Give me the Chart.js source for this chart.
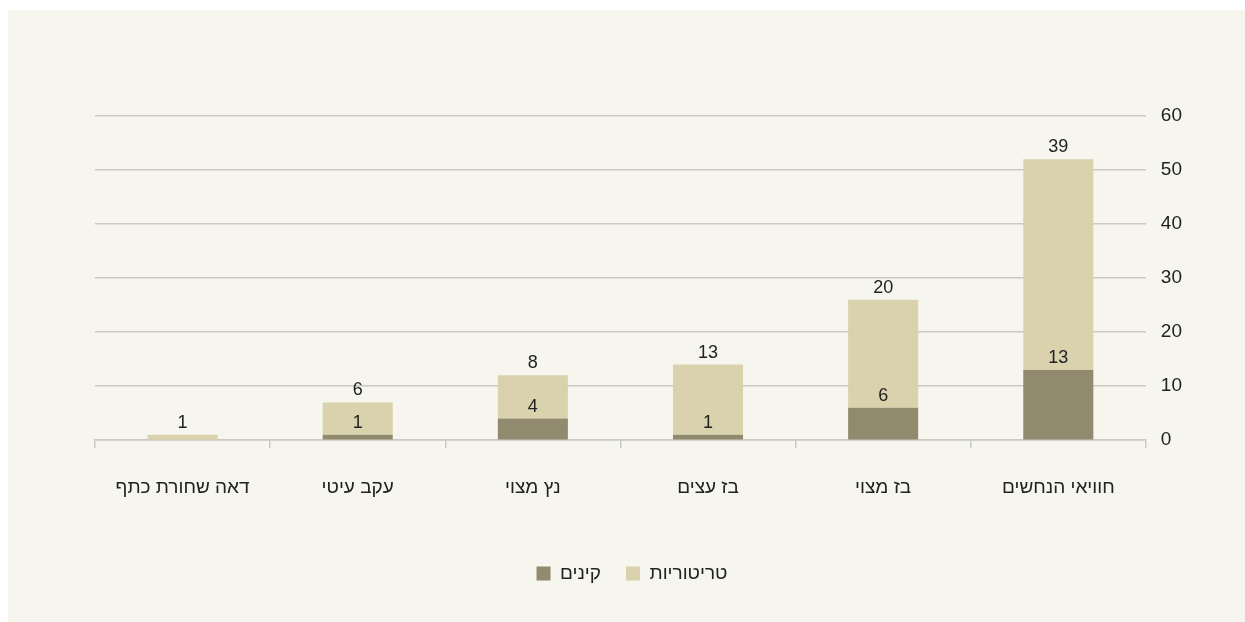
<!DOCTYPE html>
<html lang="he">
<head>
<meta charset="utf-8">
<title>קינים וטריטוריות</title>
<script src="https://cdn.jsdelivr.net/npm/chart.js@4.4.1/dist/chart.umd.min.js"></script>
<style>
  html, body { margin: 0; padding: 0; background: #ffffff; }
  #panel {
    position: absolute;
    left: 8px;
    top: 10px;
    width: 1237px;
    height: 612px;
    background: #f6f6ef;
  }
</style>
</head>
<body>
<div id="panel">
  <canvas id="barChart" width="1237" height="612"></canvas>
</div>
<script>
// Species (first one is drawn on the right)
const categories = ['חוויאי הנחשים', 'בז מצוי', 'בז עצים', 'נץ מצוי', 'עקב עיטי', 'דאה שחורת כתף'];
// Nests
const nests = [13, 6, 1, 4, 1, 0];
// Territories
const territories = [39, 20, 13, 8, 6, 1];
// Y axis ticks
const yTicks = [0, 10, 20, 30, 40, 50, 60];

const textColor = '#222222';
const gridColor = '#c9c9c4';
const fontFamily = '"Liberation Sans", "DejaVu Sans", sans-serif';

// Draw the value above the top of each segment
const valueLabels = {
  id: 'valueLabels',
  afterDatasetsDraw(chart) {
    const ctx = chart.ctx;
    ctx.save();
    ctx.fillStyle = textColor;
    ctx.font = '18px ' + fontFamily;
    ctx.textAlign = 'center';
    ctx.textBaseline = 'middle';
    chart.data.datasets.forEach((ds, di) => {
      const meta = chart.getDatasetMeta(di);
      meta.data.forEach((bar, i) => {
        const v = ds.data[i];
        if (!v) return;
        ctx.fillText(String(v), bar.x, bar.y - 12);
      });
    });
    ctx.restore();
  }
};

// nudge the legend a bit to the left, like the original
const legendShift = {
  id: 'legendShift',
  afterLayout(chart) {
    chart.legend.left -= 14;
    chart.legend.right -= 14;
  }
};

const ctx = document.getElementById('barChart').getContext('2d');
const barChart = new Chart(ctx, {
  type: 'bar',
  data: {
    labels: categories,
    datasets: [
      {
        label: 'קינים',
        data: nests,
        backgroundColor: '#918a6f',
        stack: 's'
      },
      {
        label: 'טריטוריות',
        data: territories,
        backgroundColor: '#d9d2ac',
        stack: 's'
      }
    ]
  },
  options: {
    responsive: false,
    animation: false,
    categoryPercentage: 1,
    barPercentage: 0.4,
    layout: {
      padding: { left: 87, right: 48, top: 106, bottom: 29 }
    },
    plugins: {
      legend: {
        position: 'bottom',
        title: {
          display: true,
          text: ' ',
          font: { size: 10 },
          padding: 0
        },
        labels: {
          color: textColor,
          font: { family: fontFamily, size: 19 },
          boxWidth: 14,
          boxHeight: 14,
          padding: 25
        }
      },
      tooltip: { enabled: false }
    },
    scales: {
      x: {
        stacked: true,
        reverse: true,
        grid: {
          display: true,
          drawOnChartArea: false,
          offset: true,
          color: gridColor,
          lineWidth: 1.5,
          tickLength: 8
        },
        border: { display: true, color: gridColor, width: 1.5 },
        ticks: {
          color: textColor,
          font: { family: fontFamily, size: 19 },
          padding: 28
        }
      },
      y: {
        stacked: true,
        position: 'right',
        min: 0,
        max: 60,
        afterBuildTicks(scale) {
          scale.ticks = yTicks.map(v => ({ value: v }));
        },
        grid: {
          color: gridColor,
          lineWidth: 1.5,
          drawTicks: false
        },
        border: { display: false },
        ticks: {
          color: textColor,
          font: { family: fontFamily, size: 19 },
          padding: 15,
          crossAlign: 'near'
        }
      }
    }
  },
  plugins: [valueLabels, legendShift]
});
</script>
</body>
</html>
